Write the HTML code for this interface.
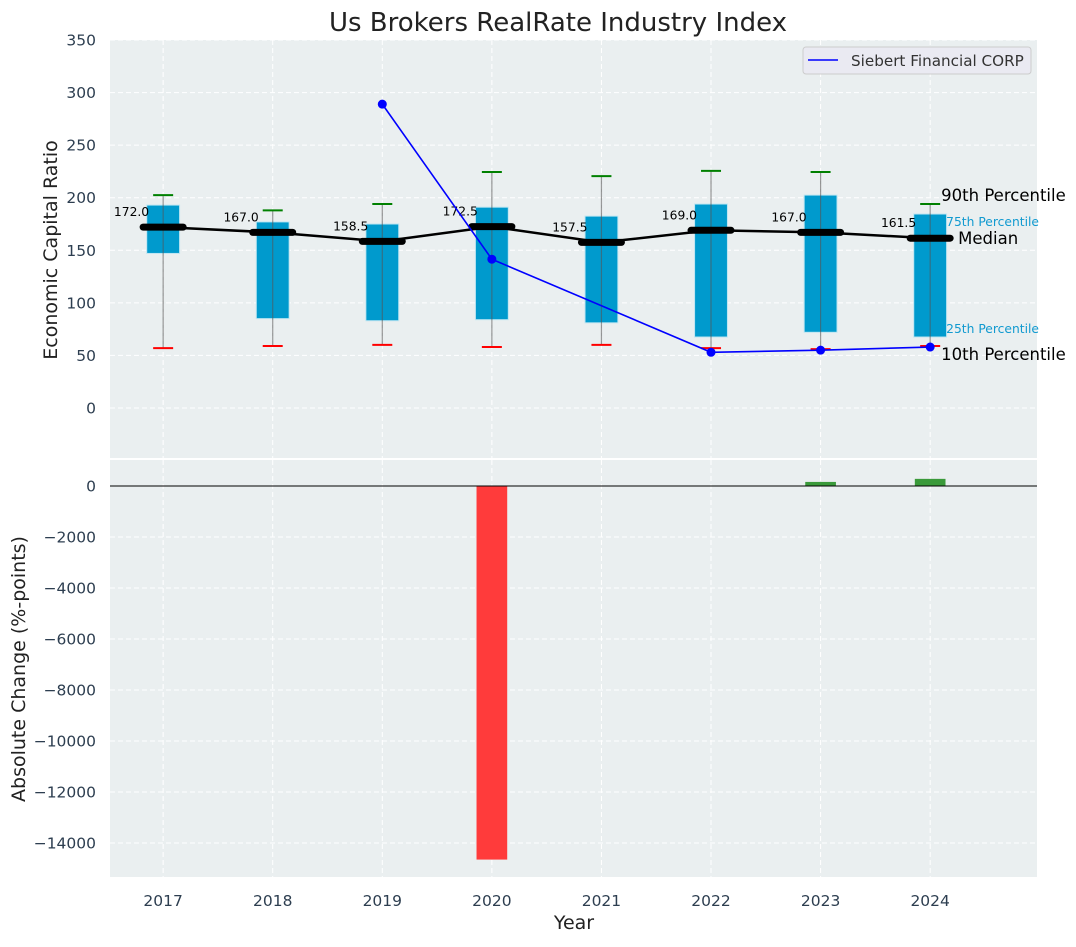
<!DOCTYPE html>
<html><head><meta charset="utf-8"><style>
body{margin:0;background:#fff}
svg{font-family:"DejaVu Sans","Liberation Sans",sans-serif}
</style></head><body>
<svg id="c" width="1076" height="942" xmlns="http://www.w3.org/2000/svg"></svg>
<script>
const years=[2017,2018,2019,2020,2021,2022,2023,2024];
const p10=[57,59,60,58,60,57,56,59];
const p25=[147,85,83,84,81,67.5,72,67.5];
const median=[172.0,167.0,158.5,172.5,157.5,169.0,167.0,161.5];
const p75=[193,177,175,191,182.5,194,202.5,184.5];
const p90=[202.5,188,194,224.5,220.5,225.5,224.5,194];
const siebertYears=[2019,2020,2022,2023,2024];
const siebert=[289,141.5,53,55,58];
const changeYears=[2020,2023,2024];
const changes=[-14650,160,280];
const topTicks=[0,50,100,150,200,250,300,350];
const botTicks=[0,-2000,-4000,-6000,-8000,-10000,-12000,-14000];

const NS='http://www.w3.org/2000/svg';
const svg=document.getElementById('c');
function el(t,a,p){const e=document.createElementNS(NS,t);for(const k in a)e.setAttribute(k,a[k]);(p||svg).appendChild(e);return e;}
const L=110,R=1037;
const x=v=>L+(v-2016.515)*(R-L)/(2024.975-2016.515);
const yT=v=>408-v*368/350;
const yB=v=>486-v*0.0255;
const TOP=[40,458],BOT=[460,877];

let bg1=el('rect',{x:L,y:TOP[0],width:R-L,height:TOP[1]-TOP[0],fill:'#eaeff0'});

let bg2=el('rect',{x:L,y:BOT[0],width:R-L,height:BOT[1]-BOT[0],fill:'#eaeff0'});


years.forEach(yr=>{
 [TOP,BOT].forEach(r=>{const g=el('line',{x1:x(yr),x2:x(yr),y1:r[0],y2:r[1],stroke:'#fff','stroke-dasharray':'5,3','stroke-width':1});
 });
 const t=el('text',{x:x(yr),y:906,'text-anchor':'middle','font-size':15.5,fill:'#2d3e50'});t.textContent=yr;
 
});
topTicks.forEach(v=>{
 const g=el('line',{x1:L,x2:R,y1:yT(v),y2:yT(v),stroke:'#fff','stroke-dasharray':'5,3'});
 
 const t=el('text',{x:96,y:yT(v)+5.5,'text-anchor':'end','font-size':15.5,fill:'#2d3e50'});t.textContent=v;
 
});
botTicks.forEach(v=>{
 const g=el('line',{x1:L,x2:R,y1:yB(v),y2:yB(v),stroke:'#fff','stroke-dasharray':'5,3'});
 
 const t=el('text',{x:96,y:yB(v)+5.5,'text-anchor':'end','font-size':15.5,fill:'#2d3e50'});t.textContent=v===0?'0':'\u2212'+Math.abs(v);
 
});

const bw=x(2017.15)-x(2016.85);
years.forEach((yr,i)=>{
 const cx=x(yr);
 const b=el('rect',{x:cx-bw/2,y:yT(p75[i]),width:bw,height:yT(p25[i])-yT(p75[i]),fill:'#009acd',stroke:'#bfe6f2','stroke-width':1});
 
 const w=el('line',{x1:cx,x2:cx,y1:yT(p90[i]),y2:yT(p10[i]),stroke:'#555','stroke-opacity':0.6,'stroke-width':1.2});
 
 const h=el('line',{x1:cx-10,x2:cx+10,y1:yT(p90[i]),y2:yT(p90[i]),stroke:'green','stroke-width':2});
 
 const lo=el('line',{x1:cx-10,x2:cx+10,y1:yT(p10[i]),y2:yT(p10[i]),stroke:'red','stroke-width':2});
 
});
const mp=el('polyline',{points:years.map((yr,i)=>x(yr)+','+yT(median[i])).join(' '),fill:'none',stroke:'#000','stroke-width':2.5});

years.forEach((yr,i)=>{
 const cx=x(yr);
 const m=el('line',{x1:cx-20,x2:cx+20,y1:yT(median[i]),y2:yT(median[i]),stroke:'#000','stroke-width':7,'stroke-linecap':'round'});
 
 const t=el('text',{x:cx-14,y:yT(median[i])-11,'text-anchor':'end','font-size':12.3,fill:'#000'});t.textContent=median[i].toFixed(1);
 
});
const sp=el('polyline',{points:siebertYears.map((yr,i)=>x(yr)+','+yT(siebert[i])).join(' '),fill:'none',stroke:'blue','stroke-width':1.6});

siebertYears.forEach((yr,i)=>{
 const c=el('circle',{cx:x(yr),cy:yT(siebert[i]),r:4.5,fill:'blue'});
 
});
const last=years.length-1,lx=x(years[last]);
[['90th Percentile',lx+11,yT(p90[last])-3,16.5,'#000'],['75th Percentile',lx+16,yT(p75[last])+12,12.3,'#119ad0'],['Median',lx+28,yT(median[last])+6,16.5,'#000'],['25th Percentile',lx+16,yT(p25[last])-4,12.3,'#119ad0'],['10th Percentile',lx+11,yT(p10[last])+14,16.5,'#000']].forEach(a=>{
 const t=el('text',{x:a[1],y:a[2],'font-size':a[3],fill:a[4]});t.textContent=a[0];
 
});
const lg=el('g',{});
el('rect',{x:803,y:47,width:228,height:27,rx:3,fill:'#eaeaf2',stroke:'#ccc'},lg);
el('line',{x1:808,x2:838,y1:60,y2:60,stroke:'blue','stroke-width':1.6},lg);
const lt=el('text',{x:851,y:66,'font-size':15.2,fill:'#333'},lg);lt.textContent='Siebert Financial CORP';

const cbw=x(2017.14)-x(2016.86);
changeYears.forEach((yr,i)=>{
 const v=changes[i];
 const b=el('rect',{x:x(yr)-cbw/2,y:Math.min(yB(0),yB(v)),width:cbw,height:Math.abs(yB(v)-yB(0)),fill:v<0?'#ff3b3b':'#3a9a3a'});
 
});
const z=el('line',{x1:L,x2:R,y1:yB(0),y2:yB(0),stroke:'#000','stroke-width':1});


const ti=el('text',{x:558,y:31,'text-anchor':'middle','font-size':26,fill:'#222'});ti.textContent='Us Brokers RealRate Industry Index';

const y1=el('text',{x:57,y:250,'text-anchor':'middle','font-size':19,fill:'#222',transform:'rotate(-90 57 250)'});y1.textContent='Economic Capital Ratio';

const y2=el('text',{x:25,y:669,'text-anchor':'middle','font-size':19,fill:'#222',transform:'rotate(-90 25 669)'});y2.textContent='Absolute Change (%-points)';

const xt=el('text',{x:574,y:929,'text-anchor':'middle','font-size':19,fill:'#222'});xt.textContent='Year';

</script>
</body></html>
